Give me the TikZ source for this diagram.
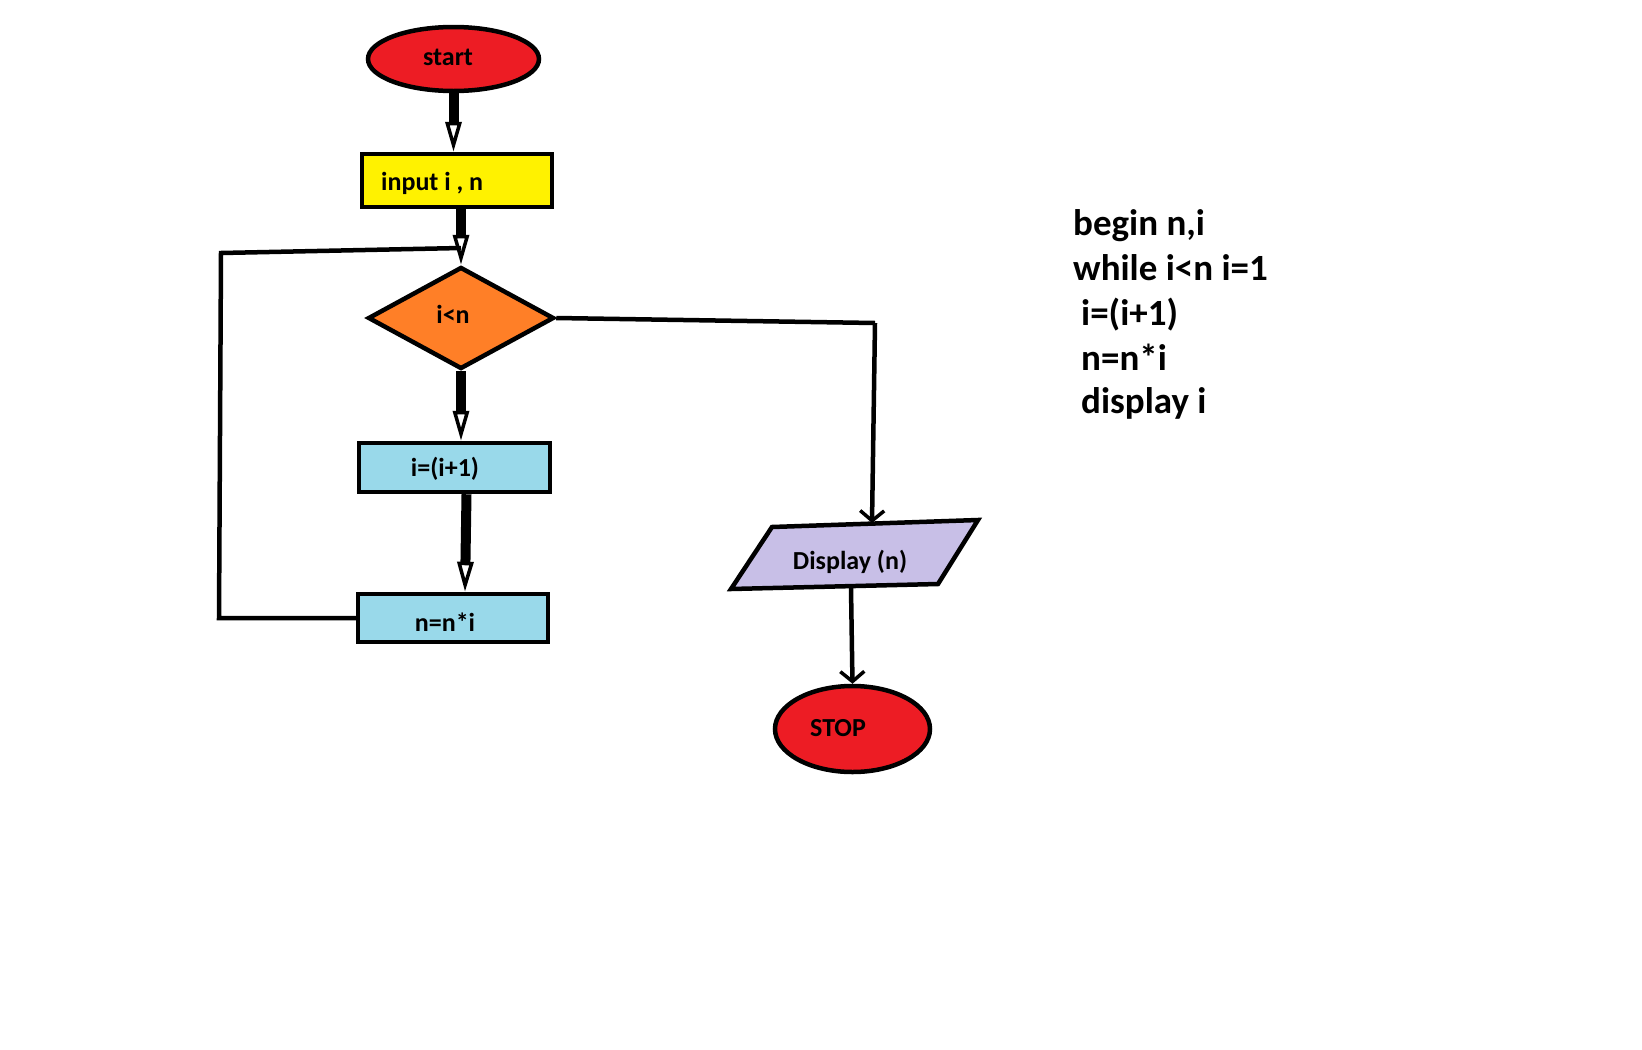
\documentclass[tikz,border=0pt]{standalone}
\usepackage{fontspec}
\setmainfont{Carlito}
\usetikzlibrary{shapes.geometric,arrows.meta,calc}
\definecolor{pred}{HTML}{ED1C24}
\definecolor{pyellow}{HTML}{FFF200}
\definecolor{porange}{HTML}{FF7F27}
\definecolor{pblue}{HTML}{99D9EA}
\definecolor{plav}{HTML}{C8BFE7}
\tikzset{
  box/.style={draw=black,line width=4.5pt,rectangle,inner sep=0pt},
  term/.style={draw=black,line width=4.5pt,ellipse,fill=pred,inner sep=0pt},
  lbl/.style={font=\bfseries\fontsize{26}{30}\selectfont,inner sep=0pt},
  side/.style={font=\bfseries\fontsize{37}{44}\selectfont,inner sep=0pt,anchor=base west},
  thickarrow/.style={line width=10pt,-{Triangle[open,length=30pt,width=16pt,line width=3.5pt]}},
  thinarrow/.style={line width=4.5pt,-{Straight Barb[length=10pt,width=24pt,line width=3.5pt]}},
  loopline/.style={line width=4.5pt,line join=miter}
}
\begin{document}
\begin{tikzpicture}[x=1pt,y=-1pt]
\useasboundingbox (0,0) rectangle (1642,1050);
% shapes
\node[term,minimum width=171pt,minimum height=64pt] (start) at (453.5,59) {};
\node[lbl] (startl) at (448,57) {start};
\node[box,fill=pyellow,minimum width=190pt,minimum height=53pt] (input) at (457,180.5) {};
\node[lbl,anchor=west] (inputl) at (381,183) {input i , n};
\node[draw=black,line width=4.5pt,diamond,fill=porange,minimum width=186pt,minimum height=102pt,aspect=1.82,inner sep=0pt] (dia) at (461,318) {};
\node[lbl] (dial) at (453,314) {i<n};
\node[box,fill=pblue,minimum width=191pt,minimum height=49pt] (inc) at (454.5,467.5) {};
\node[lbl] (incl) at (445,469) {i=(i+1)};
\node[box,fill=pblue,minimum width=190pt,minimum height=48pt] (nni) at (453,618) {};
\node[lbl] (nnil) at (445,622) {n=n*i};
% parallelogram
\coordinate (p1) at (772,527);
\coordinate (p2) at (978,520);
\coordinate (p3) at (938,584);
\coordinate (p4) at (731,589);
\draw[line width=4.5pt,line join=miter,fill=plav] (p1) -- (p2) -- (p3) -- (p4) -- cycle;
\node[lbl] (disp) at (850,562) {Display (n)};
\node[term,minimum width=155pt,minimum height=86pt] (stop) at (852.5,729) {};
\node[lbl] (stopl) at (838,728) {STOP};
% connectors
\draw[thickarrow] (start.south) -- (start.south |- input.north);
\draw[thickarrow] (input.south -| dia.north) -- (dia.north);
\draw[thickarrow] (dia.south) -- (dia.south |- inc.north);
\draw[thickarrow] ($(inc.south)+(12,0)$) -- ($(nni.north)+(12,0)$);
\coordinate (lb) at (219,618);
\coordinate (lt) at (221,253);
\coordinate (lj) at (461,248);
\draw[loopline] (nni.west) -- (lb) -- (lt) -- (lj);
\coordinate (rc) at (875,323);
\coordinate (pt) at (872,523);
\draw[line width=4.5pt,line join=miter] (dia.east) -- (rc);
\draw[thinarrow] (rc) -- (pt);
\coordinate (pb) at (851,588);
\draw[thinarrow] (pb) -- (stop.north);
% side text
\node[side] (t1) at (1073,235) {begin n,i};
\node[side] (t2) at (1073,280) {while i<n i=1};
\node[side] (t3) at (1081,325) {i=(i+1)};
\node[side] (t4) at (1081,370) {n=n*i};
\node[side] (t5) at (1081,413) {display i};
\end{tikzpicture}
\end{document}
